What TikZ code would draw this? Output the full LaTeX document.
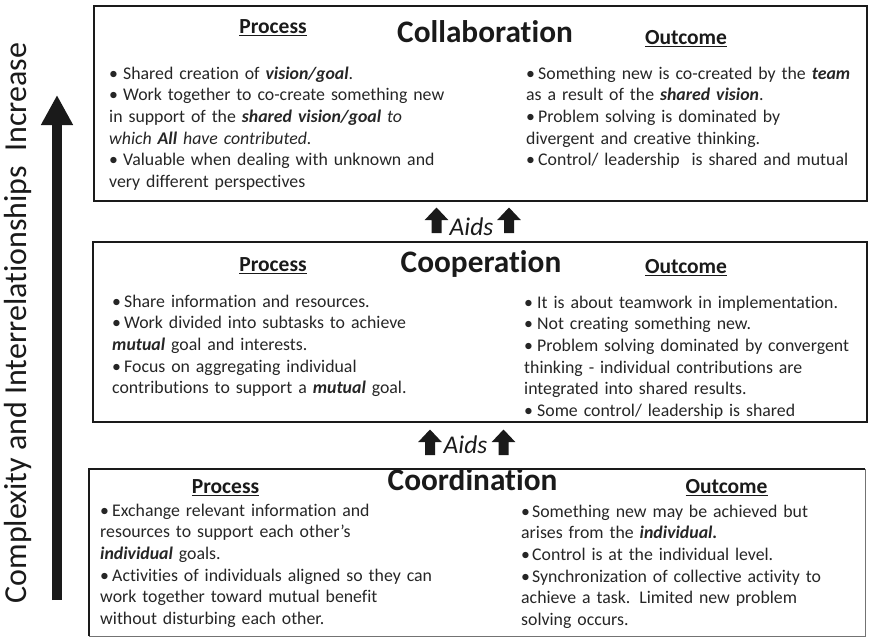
\documentclass[tikz,border=0pt]{standalone}
\usepackage{fontspec}
\setmainfont{Carlito}[Ligatures=NoCommon]
\usetikzlibrary{arrows.meta}

\definecolor{txt}{HTML}{262626}
\definecolor{ink}{HTML}{1A1A1A}

\setlength\parindent{0pt}
% hanging bullet items with a per-column hang width
\newlength\hangw
\newcommand\itmf{\hangindent=\hangw\hangafter=1\makebox[\hangw][l]{\textbullet}}
\newcommand\itm{\par\itmf}
\newcommand\bi[1]{\textbf{\textit{#1}}}
% heading with a firm underline
\newcommand\hul[1]{\setbox0\hbox{#1}\rlap{\rule[-3.4pt]{\wd0}{1.6pt}}\box0}

\tikzset{
  panel/.style={draw=ink, line width=2.6pt, anchor=north west, inner sep=0, outer sep=0},
  title/.style={anchor=base, inner sep=0, text=ink, font=\fontsize{31.3}{31.3}\selectfont\bfseries},
  head/.style={anchor=base, inner sep=0, text=ink, font=\fontsize{21.5}{21.5}\selectfont\bfseries},
  body/.style={anchor=base west, inner sep=0, text width=345pt, align=left, text=txt,
               font=\fontsize{17.8}{21.7}\selectfont},
  aids/.style={anchor=base, inner sep=0, text=ink, font=\fontsize{25.5}{25.5}\selectfont\itshape},
  upblock/.pic={\fill[ink] (-5,0) -- (-5,-13) -- (-11.8,-13) -- (0,-25.5) -- (11.8,-13) -- (5,-13) -- (5,0) -- cycle;}
}

\begin{document}
\begin{tikzpicture}[x=1pt,y=-1pt]
\useasboundingbox (0,0) rectangle (869,638);
\fill[white] (0,0) rectangle (869,638);

% the three panels
\node[panel, minimum width=773pt, minimum height=195pt] (collab) at (94,6) {};
\node[panel, minimum width=774pt, minimum height=180pt] (coop) at (93,242) {};
\node[anchor=north west, inner sep=0, outer sep=0, draw=black!55, line width=1pt,
      minimum width=776pt, minimum height=167pt] (coord) at (89,469) {};
\draw[ink, line width=2.6pt] (coord.south west) -- (coord.north west) -- (coord.north east);

% Collaboration
\node[title] (collabT) at (485,42) {Collaboration};
\node[head] (collabP) at (273,33) {\hul{Process}};
\node[head] (collabO) at (686,44) {\hul{Outcome}};
\setlength\hangw{14pt}
\node[body] (collabL) at (109,79) {%
\itmf Shared creation of \bi{vision/goal}.
\itm Work together to co-create something new\\ in support of the \bi{shared vision/goal} \textit{to}\\ \textit{which \textbf{All} have contributed.}
\itm Valuable when dealing with unknown and\\ very different perspectives};
\setlength\hangw{12pt}
\node[body] (collabR) at (526,79) {%
\itmf Something new is co-created by the \bi{team}\\ as a result of the \bi{shared vision}.
\itm Problem solving is dominated by\\ divergent and creative thinking.
\itm Control/ leadership\ \ is shared and mutual};

% Cooperation
\node[title] (coopT) at (481,272) {Cooperation};
\node[head] (coopP) at (273,271) {\hul{Process}};
\node[head] (coopO) at (686,273) {\hul{Outcome}};
\setlength\hangw{12pt}
\node[body] (coopL) at (112,307) {%
\itmf Share information and resources.
\itm Work divided into subtasks to achieve\\ \bi{mutual} goal and interests.
\itm Focus on aggregating individual\\ contributions to support a \bi{mutual} goal.};
\setlength\hangw{13pt}
\node[body] (coopR) at (524,308) {%
\itmf It is about teamwork in implementation.
\itm Not creating something new.
\itm Problem solving dominated by convergent\\ thinking - individual contributions are\\ integrated into shared results.
\itm Some control/ leadership is shared};

% Coordination
\node[title] (coordT) at (472.5,490) {Coordination};
\node[head] (coordP) at (225.5,493) {\hul{Process}};
\node[head] (coordO) at (726.5,493) {\hul{Outcome}};
\setlength\hangw{12pt}
\node[body] (coordL) at (100,516) {%
\itmf Exchange relevant information and\\ resources to support each other’s\\ \bi{individual} goals.
\itm Activities of individuals aligned so they can\\ work together toward mutual benefit\\ without disturbing each other.};
\setlength\hangw{11pt}
\node[body] (coordR) at (521,517) {%
\itmf Something new may be achieved but\\ arises from the \bi{individual.}
\itm Control is at the individual level.
\itm Synchronization of collective activity to\\ achieve a task. Limited new problem\\ solving occurs.};

% "Aids" links between the panels
\pic (aidsAl) at (436.5,233) {upblock};
\node[aids] (aidsA) at (471.5,235) {Aids};
\pic (aidsAr) at (509,233) {upblock};
\pic (aidsBl) at (430,455) {upblock};
\node[aids] (aidsB) at (465.5,453) {Aids};
\pic (aidsBr) at (503.5,455) {upblock};

% vertical axis
\coordinate (axisLo) at (57,600);
\coordinate (axisHi) at (57,95);
\draw[ink, line width=10pt, -{Triangle[width=30pt,length=30pt]}] (axisLo) -- (axisHi);
\node[rotate=90, inner sep=0, text=ink, font=\fontsize{32}{32}\selectfont] (axisT) at (18,323)
  {Complexity and Interrelationships\ \ Increase};
\end{tikzpicture}
\end{document}
